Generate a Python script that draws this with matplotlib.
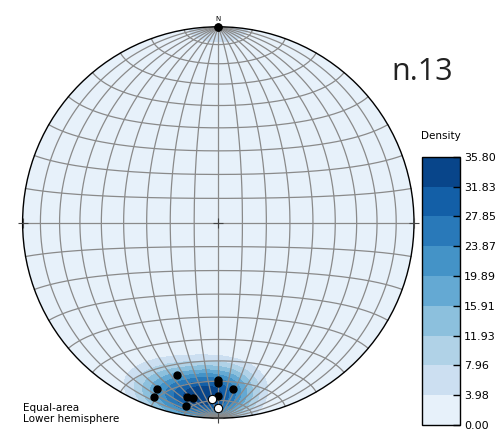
import numpy as np
import matplotlib
matplotlib.use("Agg")
import matplotlib.pyplot as plt
from matplotlib.patches import Circle

# Measured orientations (lower hemisphere): trend / plunge in degrees
trend_black = [195.1, 200.2, 200.1, 190.1, 188.1, 190.1, 180.0, 180.0, 175.0, 180.0]
plunge_black = [20.6, 10.5, 5.6, 10.4, 10.4, 5.5, 20.8, 19.0, 15.5, 12.5]
trend_white = [182.0, 180.0]
plunge_white = [10.7, 5.7]
# two coincident records lying horizontal toward north
trend_north = [0.0, 0.0]
plunge_north = [0.0, 0.0]

density_levels = [0.00, 3.98, 7.96, 11.93, 15.91, 19.89, 23.87, 27.85, 31.83, 35.80]
site_label = "n.13"

W, H, DPI = 499, 434, 100
fig = plt.figure(figsize=(W / DPI, H / DPI), dpi=DPI)

# Stereonet axes: unit circle centred at (218.3, 222.5) px, radius 195.7 px
cx, cy, R = 218.3, 222.5, 195.7
lim = 1.1
ax = fig.add_axes([(cx - lim * R) / W, (H - cy - lim * R) / H,
                   2 * lim * R / W, 2 * lim * R / H])
ax.set_xlim(-lim, lim)
ax.set_ylim(-lim, lim)
ax.axis("off")


def project(trend, plunge):
    """Equal-area (Schmidt) projection of lower-hemisphere lines onto the unit disc."""
    t = np.radians(np.asarray(trend, float))
    p = np.radians(np.asarray(plunge, float))
    r = np.sqrt(2) * np.sin((np.pi / 2 - p) / 2)
    return r * np.sin(t), r * np.cos(t)


def to_xyz(trend, plunge):
    t = np.radians(np.asarray(trend, float))
    p = np.radians(np.asarray(plunge, float))
    return np.stack([np.cos(p) * np.sin(t), np.cos(p) * np.cos(t), np.sin(p)], axis=-1)


# ---- density (exponential Kamb kernel) ----
n_grid = 361
gx, gy = np.meshgrid(np.linspace(-1.02, 1.02, n_grid), np.linspace(-1.02, 1.02, n_grid))
gr = np.clip(np.hypot(gx, gy), 0, 1)
g_plunge = 90 - np.degrees(2 * np.arcsin(gr / np.sqrt(2)))
g_trend = np.degrees(np.arctan2(gx, gy))
grid_xyz = to_xyz(g_trend.ravel(), g_plunge.ravel())

data_xyz = to_xyz(trend_black + trend_white + trend_north,
                  plunge_black + plunge_white + plunge_north)
sigma = 0.85
n = len(data_xyz)
f = 2 * (1 + n / sigma ** 2)
units = np.sqrt(n * (f / 2 - 1) / f ** 2)
cos_dist = grid_xyz @ data_xyz.T
totals = (np.exp(f * (cos_dist - 1)).sum(axis=1) - 0.5) / units
totals = np.clip(totals, 0, None).reshape(gx.shape)
# express on the colour-bar scale
totals = np.clip(totals * density_levels[-1] / totals.max(), 0, density_levels[-1])

fill_colors = plt.get_cmap("Blues")([0.08, 0.22, 0.32, 0.42, 0.52, 0.62, 0.72, 0.82, 0.92])
boundary = Circle((0, 0), 1, transform=ax.transData, facecolor="none")
cf = ax.contourf(gx, gy, totals, levels=density_levels, colors=fill_colors, zorder=1)
cf.set_clip_path(boundary)

# ---- grid: meridians and parallels every 10 degrees ----
def lam_xy(lon, lat):
    lon = np.radians(lon)
    lat = np.radians(lat)
    k = np.sqrt(2 / (1 + np.cos(lat) * np.cos(lon)))
    return k * np.cos(lat) * np.sin(lon) / np.sqrt(2), k * np.sin(lat) / np.sqrt(2)

lat_line = np.linspace(-90, 90, 361)
lon_line = np.linspace(-90, 90, 361)
for lon in range(-80, 81, 10):
    x, y = lam_xy(np.full_like(lat_line, lon), lat_line)
    ax.plot(x, y, color="#8a8a8a", lw=0.9, zorder=2)
for lat in range(-80, 81, 10):
    x, y = lam_xy(lon_line, np.full_like(lon_line, lat))
    ax.plot(x, y, color="#8a8a8a", lw=0.9, zorder=2)

ax.add_patch(Circle((0, 0), 1, facecolor="none", edgecolor="black", lw=1.0, zorder=3))

# cardinal / centre ticks
for px_, py_ in [(0, 0), (-1, 0), (1, 0), (0, -1)]:
    ax.plot(px_, py_, marker="+", ms=7, mew=0.8, color="#444444", zorder=3)

# ---- measurements ----
bx, by = project(trend_black, plunge_black)
ax.plot(bx, by, "o", color="black", ms=5, zorder=5)
wx, wy = project(trend_white, plunge_white)
ax.plot(wx, wy, "o", mfc="white", mec="black", mew=0.8, ms=6, zorder=6)
nx, ny = project(trend_north, plunge_north)
ax.plot(nx, ny, "o", color="black", ms=5, zorder=6, clip_on=False)
ax.text(0, 1.04, "N", ha="center", va="center", fontsize=5)

# ---- texts ----
fig.text(23 / W, 1 - 413.5 / H, "Equal-area\nLower hemisphere", ha="left", va="center",
         fontsize=7.5, linespacing=1.15)
fig.text(422 / W, 1 - 72 / H, site_label, ha="center", va="center",
         fontsize=22, family=["Open Sans", "DejaVu Sans"], color="#222222")

# ---- colour bar ----
cax = fig.add_axes([421.7 / W, 1 - 425 / H, 38.3 / W, (425 - 156.7) / H])
cb = fig.colorbar(cf, cax=cax, ticks=density_levels)
cb.ax.set_yticklabels([f"{v:.2f}" for v in density_levels])
cb.ax.tick_params(direction="in", length=5, width=1, labelsize=8, pad=3)
cb.outline.set_linewidth(1.0)
cb.ax.set_title("Density", fontsize=7.5, pad=13)

fig.savefig("out.png", dpi=DPI)
